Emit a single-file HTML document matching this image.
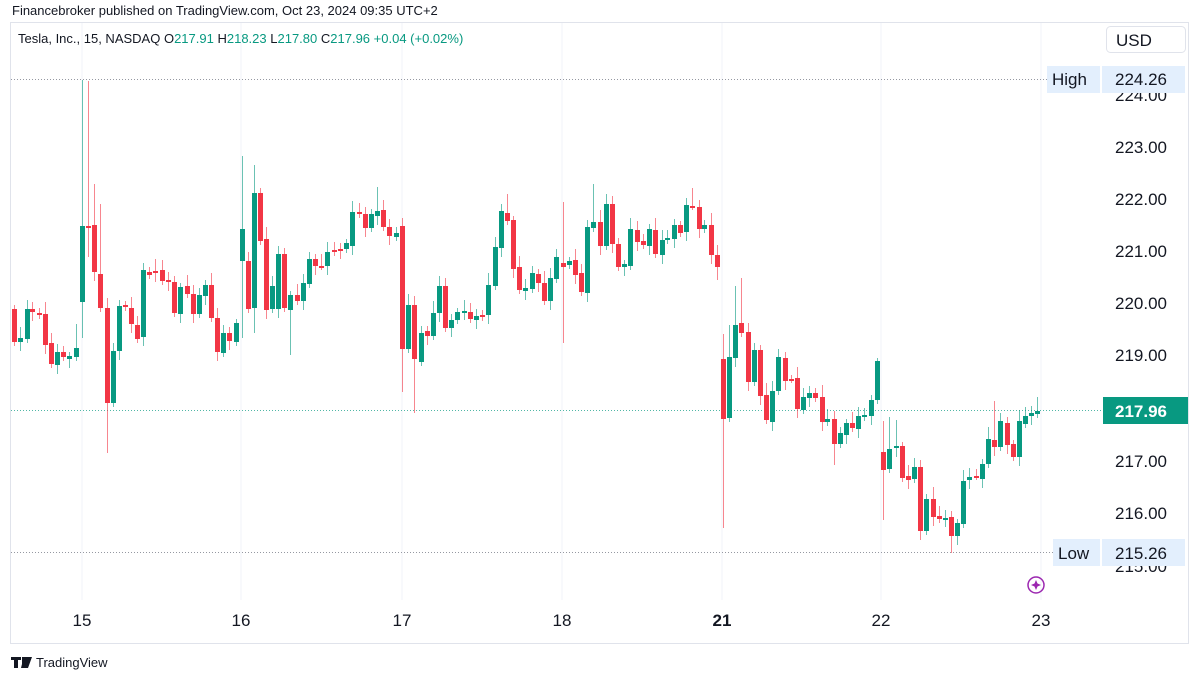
<!DOCTYPE html>
<html><head><meta charset="utf-8"><style>
body{margin:0;background:#fff;width:1200px;height:675px;overflow:hidden;font-family:"Liberation Sans",sans-serif}
</style></head><body>
<svg id="s" width="1200" height="675" xmlns="http://www.w3.org/2000/svg" font-family="Liberation Sans, sans-serif">
<text x="12" y="15" font-size="13" fill="#131722">Financebroker published on TradingView.com, Oct 23, 2024 09:35 UTC+2</text>
<rect x="10.5" y="22.5" width="1178" height="621" fill="none" stroke="#e0e3eb"/>
<g stroke="#f0f3fa" stroke-width="1">
<line x1="82" y1="23" x2="82" y2="600"/><line x1="241" y1="23" x2="241" y2="600"/><line x1="402" y1="23" x2="402" y2="600"/><line x1="562" y1="23" x2="562" y2="600"/><line x1="722" y1="23" x2="722" y2="600"/><line x1="881" y1="23" x2="881" y2="600"/><line x1="1041" y1="23" x2="1041" y2="600"/>
</g>
<text x="18" y="43" font-size="13" fill="#131722">Tesla, Inc., 15, NASDAQ <tspan fill="#131722">O</tspan><tspan fill="#089981">217.91</tspan> <tspan fill="#131722">H</tspan><tspan fill="#089981">218.23</tspan> <tspan fill="#131722">L</tspan><tspan fill="#089981">217.80</tspan> <tspan fill="#131722">C</tspan><tspan fill="#089981">217.96</tspan> <tspan fill="#089981">+0.04 (+0.02%)</tspan></text>
<line x1="11" y1="79.5" x2="1047" y2="79.5" stroke="#9598a1" stroke-dasharray="1,2"/>
<line x1="11" y1="410.5" x2="1103" y2="410.5" stroke="#089981" stroke-dasharray="1,2" opacity="0.7"/>
<line x1="11" y1="552.5" x2="1053" y2="552.5" stroke="#9598a1" stroke-dasharray="1,2"/>
<g id="c"></g>
<g font-size="17" fill="#131722">
<text x="1115" y="101">224.00</text><text x="1115" y="153">223.00</text><text x="1115" y="205">222.00</text><text x="1115" y="257">221.00</text><text x="1115" y="309">220.00</text><text x="1115" y="361">219.00</text><text x="1115" y="467">217.00</text><text x="1115" y="519">216.00</text><text x="1115" y="572">215.00</text>
</g>
<rect x="1106.5" y="26.5" width="79" height="26" rx="4" fill="#fff" stroke="#e0e3eb"/>
<text x="1116" y="46" font-size="17" fill="#131722">USD</text>
<rect x="1047" y="66" width="53" height="27" fill="#e3effd"/>
<rect x="1102" y="66" width="83" height="27" fill="#e3effd"/>
<text x="1052" y="85" font-size="17" fill="#131722">High</text>
<text x="1115" y="85" font-size="17" fill="#131722">224.26</text>
<rect x="1053" y="539" width="47" height="27" fill="#e3effd"/>
<rect x="1102" y="539" width="83" height="27" fill="#e3effd"/>
<text x="1058" y="559" font-size="17" fill="#131722">Low</text>
<text x="1115" y="559" font-size="17" fill="#131722">215.26</text>
<rect x="1103" y="397" width="85" height="27" fill="#089981"/>
<text x="1115" y="417" font-size="17" font-weight="bold" fill="#fff">217.96</text>
<circle cx="1036" cy="585" r="8" fill="none" stroke="#9c27b0" stroke-width="1.5"/>
<path d="M1036 580 L1037.5 583.5 L1041 585 L1037.5 586.5 L1036 590 L1034.5 586.5 L1031 585 L1034.5 583.5Z" fill="#9c27b0"/>
<g font-size="17" fill="#131722" text-anchor="middle">
<text x="82" y="626">15</text><text x="241" y="626">16</text><text x="402" y="626">17</text><text x="562" y="626">18</text><text x="722" y="626" font-weight="bold">21</text><text x="881" y="626">22</text><text x="1041" y="626">23</text>
</g>
<path d="M11 657h10v3h-3v8h-4v-8h-3z M22 657h6l-3 11h-4l1-4z M28 657h4l-4 11h-3z" fill="#131722"/>
<text x="36" y="667" font-size="13" fill="#131722">TradingView</text>
</svg>
<script>
var d=[[14,309,342],[20,342,338],[27,339,309],[32,309,312],[39,313,315],[45,314,345],[51,343,364],[57,365,352],[63,352,357],[69,359,356],[76,357,348,324],[82,302,226,80,338],[88,226,227,81,257],[94,225,272,184],[100,274,308,204],[107,308,403,0,453],[113,403,351],[119,351,306],[125,305,307],[131,308,324],[137,325,339],[143,337,270],[149,272,275],[155,271,273],[162,270,281],[168,280,282],[174,282,313],[180,314,287],[187,286,294],[193,294,314],[199,314,295],[205,296,285],[211,285,318],[217,318,352],[223,353,333],[229,333,341],[236,342,323],[242,261,229,156,338],[248,261,309],[254,308,193,165,333],[260,193,241],[266,239,310],[272,309,286],[278,309,254],[284,254,308],[290,310,295,0,355],[297,295,301],[303,301,283],[309,284,259],[315,259,266],[321,266,266],[327,266,252],[334,250,252],[340,249,250],[346,249,243],[352,246,212],[359,212,214],[365,214,228],[371,228,214],[377,216,211,187],[383,210,227],[389,227,236],[396,237,233],
[402,226,349,218,392],[408,349,305],[414,305,359,0,413],[421,362,333],[427,331,336],[433,336,313],[439,313,286],[445,286,328],[451,328,320],[457,320,312],[464,311,311],[470,312,319],[476,320,316],[482,315,317],[488,315,285],[495,286,247],[501,248,211,204],[507,213,221,194],[513,220,269],[519,267,290],[525,291,288],[532,289,273],[538,274,283],[544,283,301],[550,301,278],[556,279,257],[563,263,267,202,343],[569,265,261],[575,260,275],[581,273,292],[587,293,227],[593,228,222,184],[600,222,246],[606,246,204],[612,204,244],[618,244,267],[624,267,264],[630,266,229],[637,230,242],[643,241,245],[649,246,229],[655,230,254],[662,255,240],[667,240,238],[674,239,225],[680,225,233],[686,232,205,198],[692,206,206,188],[699,207,229],[704,229,225],[711,225,255],[717,255,267,0,280],
[723,359,419,334,528],[729,418,357,325],[735,358,325,286],[741,323,333,278],[748,332,382],[754,382,350],[760,350,396],[766,395,420],[772,422,391],[778,391,357],[785,358,381],[791,379,379],[797,378,409],[803,410,397],[809,398,393],[815,393,398],[822,397,422],[827,422,419],[834,419,444,0,465],[840,444,433],[846,435,423],[852,423,428],[858,429,416],[864,417,415],[871,416,400],[877,400,361,358],[883,452,470,421,520],[889,469,449,417],[896,448,446,420],[902,446,478],[908,476,480],[914,479,467],[920,467,531],[926,531,499],[933,499,517],[939,516,519],[945,518,518],[951,517,536,0,553],[957,536,523],[963,524,481],[969,480,477],[976,476,476],[982,479,464],[988,464,439],[994,440,447,401],[1000,447,421],[1007,423,445],[1013,444,457],[1019,457,421],[1025,424,416],[1031,416,413],[1037,414,411,397]];
var s='';
d.forEach(function(c,i){var x=c[0],o=c[1],cl=c[2],t=Math.min(o,cl),b=Math.max(o,cl);
var hi=c[3]||t-4-((i*7)%9),lo=c[4]||b+4+((i*5)%10);
var col=cl<o||(cl==o&&i%2)?'#089981':'#f23645';
s+='<line x1="'+(x+0.5)+'" x2="'+(x+0.5)+'" y1="'+hi+'" y2="'+lo+'" stroke="'+col+'" stroke-opacity="0.6"/>';
s+='<rect x="'+(x-2)+'" y="'+t+'" width="5" height="'+Math.max(2,b-t)+'" fill="'+col+'"/>';});
document.getElementById('c').innerHTML=s;
</script>
</body></html>
